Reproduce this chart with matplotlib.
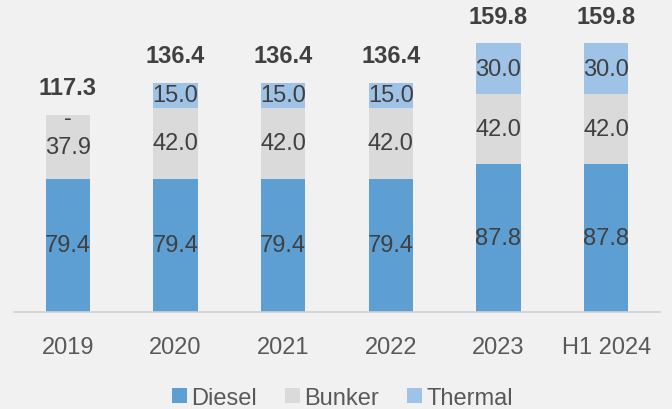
import matplotlib
matplotlib.use('Agg')
import matplotlib.pyplot as plt
import numpy as np

# data
years = ['2019', '2020', '2021', '2022', '2023', 'H1 2024']
diesel = [79.4, 79.4, 79.4, 79.4, 87.8, 87.8]
bunker = [37.9, 42.0, 42.0, 42.0, 42.0, 42.0]
thermal = [0.0, 15.0, 15.0, 15.0, 30.0, 30.0]

plt.rcParams['font.family'] = ['Liberation Sans', 'DejaVu Sans']

c_diesel = '#5e9fd3'
c_bunker = '#d9dad9'
c_thermal = '#9ec3e7'
txt = '#404040'

fig = plt.figure(figsize=(6.72, 4.10), dpi=100)
fig.patch.set_facecolor('#f1f1f1')
ax = fig.add_axes([14 / 672, 97 / 410, 646 / 672, 306 / 410])
ax.set_facecolor('none')

x = np.arange(len(years))
w = 0.41
bottom2 = np.array(diesel) + np.array(bunker)
totals = bottom2 + np.array(thermal)

b1 = ax.bar(x, diesel, w, color=c_diesel, label='Diesel')
b2 = ax.bar(x, bunker, w, bottom=diesel, color=c_bunker, label='Bunker')
b3 = ax.bar(x, thermal, w, bottom=bottom2, color=c_thermal, label='Thermal')

fs = 17
for i in range(len(years)):
    ax.text(x[i], diesel[i] / 2, f'{diesel[i]:.1f}', ha='center', va='center',
            fontsize=fs, color=txt)
    ax.text(x[i], diesel[i] + bunker[i] / 2, f'{bunker[i]:.1f}', ha='center',
            va='center', fontsize=fs, color=txt)
    if thermal[i] > 0:
        ax.text(x[i], bottom2[i] + thermal[i] / 2, f'{thermal[i]:.1f}',
                ha='center', va='center', fontsize=fs, color=txt)
    else:
        ax.text(x[i], bottom2[i] - 2, '-', ha='center', va='center',
                fontsize=fs, color=txt)
    ax.annotate(f'{totals[i]:.1f}', (x[i], totals[i]), xytext=(0, 19.5),
                textcoords='offset points', ha='center', va='center',
                fontsize=fs, fontweight='bold', color=txt)

ax.set_xlim(-0.5, len(years) - 0.5)
ax.set_ylim(0, 182)
ax.set_xticks(x)
ax.set_xticklabels(years, fontsize=fs, color='#595959')
ax.tick_params(axis='x', length=0, pad=17)
ax.set_yticks([])
for s in ['top', 'right', 'left']:
    ax.spines[s].set_visible(False)
ax.spines['bottom'].set_color('#d0d0d0')
ax.spines['bottom'].set_linewidth(1.2)

leg = fig.legend(handles=[b1, b2, b3], loc='center', bbox_to_anchor=(0.51, 11 / 410),
                 ncol=3, frameon=False, fontsize=fs, handlelength=0.6,
                 handleheight=0.6, handletextpad=0.2, columnspacing=1.2)
for t in leg.get_texts():
    t.set_color('#595959')

plt.savefig('out.png', dpi=100, facecolor=fig.get_facecolor())
